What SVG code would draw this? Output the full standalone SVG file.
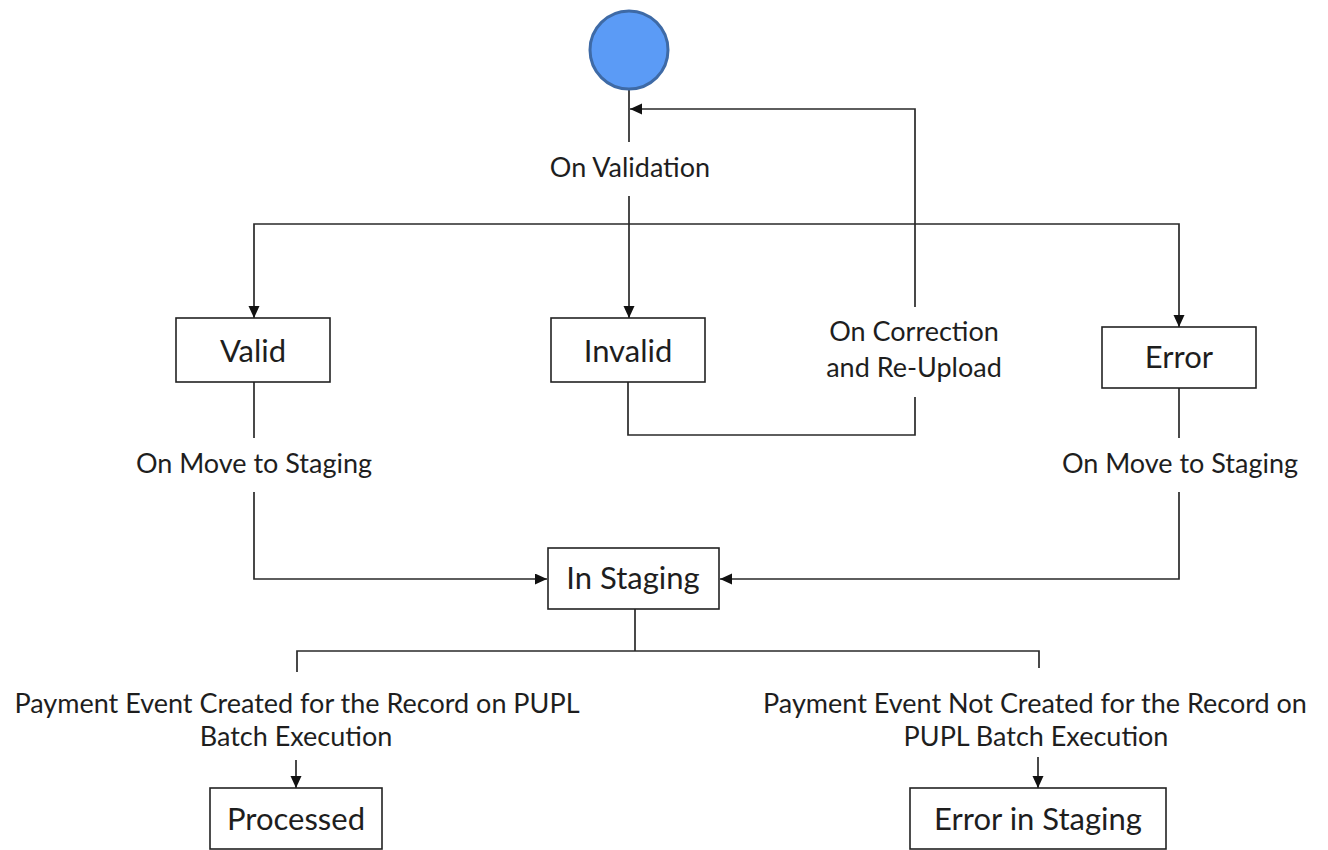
<svg xmlns="http://www.w3.org/2000/svg" width="1328" height="850" viewBox="0 0 1328 850">
<style>
.box{fill:#fff;stroke:#222;stroke-width:1.6}
.ln{fill:none;stroke:#2a2a2a;stroke-width:1.7}
.lbl{font-family:Lato,"Open Sans","Liberation Sans",sans-serif;font-size:27px;fill:#1e1e1e;text-anchor:middle}
.nlbl{font-family:Lato,"Open Sans","Liberation Sans",sans-serif;font-size:31px;fill:#1e1e1e;text-anchor:middle}
</style>
<defs>
<marker id="arr" markerWidth="13" markerHeight="12" refX="12" refY="5.5" orient="auto" markerUnits="userSpaceOnUse">
<path d="M0,0 L12,5.5 L0,11 z" fill="#111"/>
</marker>
</defs>
<rect width="1328" height="850" fill="#fff"/>
<g id="connectors">
<path class="ln" d="M629 89 V142"/>
<path class="ln" d="M629 196 V318" marker-end="url(#arr)"/>
<path class="ln" d="M629 224 H254 V318" marker-end="url(#arr)"/>
<path class="ln" d="M629 224 H1179 V327" marker-end="url(#arr)"/>
<path class="ln" d="M628 382 V435 H915 V397"/>
<path class="ln" d="M915 307 V109 H630" marker-end="url(#arr)"/>
<path class="ln" d="M254 382 V438"/>
<path class="ln" d="M254 492 V579 H547" marker-end="url(#arr)"/>
<path class="ln" d="M1179 388 V438"/>
<path class="ln" d="M1179 492 V579 H720" marker-end="url(#arr)"/>
<path class="ln" d="M635 609 V651"/>
<path class="ln" d="M297 672 V651 H1039 V668"/>
<path class="ln" d="M296 760 V788" marker-end="url(#arr)"/>
<path class="ln" d="M1038 757 V788" marker-end="url(#arr)"/>
<text class="lbl" x="630" y="177">On Validation</text>
<text class="lbl" x="914" y="341">On Correction</text>
<text class="lbl" x="914" y="377">and Re-Upload</text>
<text class="lbl" x="254" y="473">On Move to Staging</text>
<text class="lbl" x="1180" y="473">On Move to Staging</text>
<text class="lbl" x="297" y="713">Payment Event Created for the Record on PUPL</text>
<text class="lbl" x="296" y="746">Batch Execution</text>
<text class="lbl" x="1035" y="713">Payment Event Not Created for the Record on</text>
<text class="lbl" x="1036" y="746">PUPL Batch Execution</text>
</g>
<g id="start">
<circle cx="629" cy="50" r="39" fill="#5b9bf6" stroke="#3e6aa6" stroke-width="3"/>
</g>
<g id="valid">
<rect class="box" x="176" y="318" width="154" height="64"/>
<text class="nlbl" x="253" y="362">Valid</text>
</g>
<g id="invalid">
<rect class="box" x="551" y="318" width="154" height="64"/>
<text class="nlbl" x="628" y="362">Invalid</text>
</g>
<g id="error">
<rect class="box" x="1102" y="327" width="154" height="61"/>
<text class="nlbl" x="1179" y="368">Error</text>
</g>
<g id="in-staging">
<rect class="box" x="548" y="548" width="171" height="61"/>
<text class="nlbl" x="633" y="589">In Staging</text>
</g>
<g id="processed">
<rect class="box" x="210" y="788" width="172" height="61"/>
<text class="nlbl" x="296" y="830">Processed</text>
</g>
<g id="error-in-staging">
<rect class="box" x="910" y="788" width="256" height="61"/>
<text class="nlbl" x="1038" y="830">Error in Staging</text>
</g>
</svg>
